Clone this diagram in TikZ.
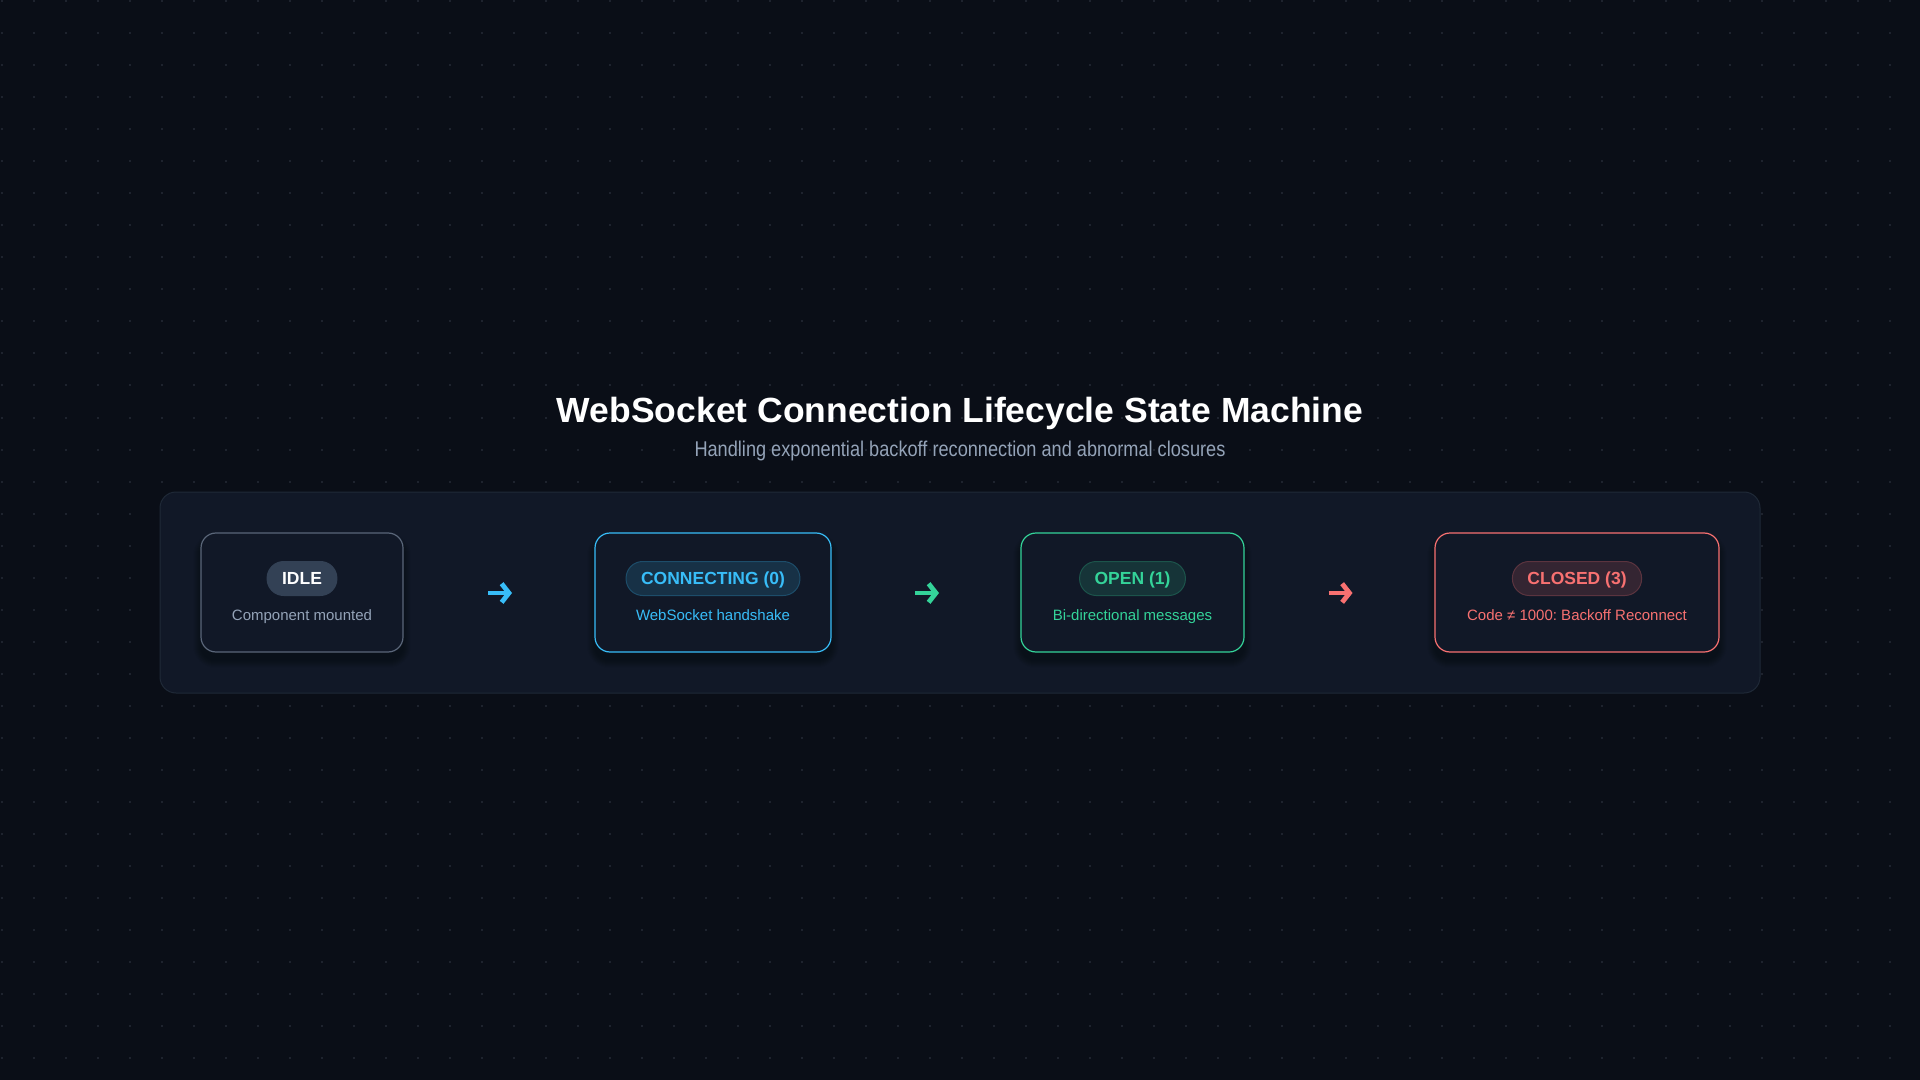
\documentclass[tikz,border=0pt]{standalone}
\usepackage{fontspec}
\usepackage{graphicx}
\setmainfont{Liberation Sans}
\usetikzlibrary{calc,arrows.meta}
\definecolor{bgc}{HTML}{0A0E17}
\definecolor{dotc}{HTML}{1E232E}
\definecolor{panelc}{HTML}{111827}
\definecolor{panelb}{HTML}{1F2937}
\definecolor{boxc}{HTML}{111827}
\definecolor{idleb}{HTML}{5A6679}
\definecolor{idlepill}{HTML}{334155}
\definecolor{subgray}{HTML}{94A3B8}
\definecolor{cblue}{HTML}{38BDF8}
\definecolor{cgreen}{HTML}{34D399}
\definecolor{cred}{HTML}{F87171}
\pgfdeclarelayer{back}
\pgfdeclarelayer{shade}
\pgfsetlayers{back,shade,main}
\tikzset{
  statebox/.style={draw=#1, line width=0.9pt, fill=boxc, rounded corners=11.25pt,
    minimum height=89.25pt, inner sep=0pt},
  pill/.style={font=\fontsize{13.125pt}{15pt}\selectfont\bfseries, text=#1,
    fill=#1!15!boxc, draw=#1!32!boxc, line width=0.75pt,
    rounded corners=12.5pt, minimum height=25.5pt, inner xsep=11.25pt,
    inner ysep=0pt, text height=9.4pt, text depth=0pt},
  subtext/.style={font=\fontsize{11.25pt}{13pt}\selectfont, text=#1, anchor=base, inner sep=0pt},
  flowarrow/.style={draw=#1, line width=3.6pt, -{Straight Barb[length=5.5pt,width=14pt]}}
}
\newcommand{\boxshadow}[1]{%
  \begin{pgfonlayer}{shade}
  \foreach \k in {0,2,...,14}{
    \fill[black,opacity=0.035,rounded corners={(15+\k/2)*0.75pt}]
      ($(#1.north west)+({-\k/2},{8-\k/2})$) rectangle ($(#1.south east)+({\k/2},{8+\k/2})$);
  }
  \end{pgfonlayer}}
\begin{document}
\frenchspacing
\begin{tikzpicture}[x=0.75pt,y=-0.75pt]
\useasboundingbox (0,0) rectangle (1920,1080);
\begin{pgfonlayer}{back}
\fill[bgc] (0,0) rectangle (1920,1080);
\foreach \i in {0,...,60}{
  \foreach \j in {0,...,33}{
    \fill[dotc] (\i*32+0.5,\j*32+0.5) rectangle ++(2,2);
  }
}
\end{pgfonlayer}

% title
\node[anchor=base, text=white, inner sep=0pt] (title) at (960,422)
  {\resizebox{604.5pt}{19pt}{\bfseries WebSocket Connection Lifecycle State Machine}};
\node[anchor=base, text=subgray, inner sep=0pt] (subtitle) at (960,456.5)
  {\resizebox{398.25pt}{11.6pt}{Handling exponential backoff reconnection and abnormal closures}};

% panel
\begin{pgfonlayer}{back}
\node[fill=panelc, draw=panelb, line width=0.75pt, rounded corners=12pt,
  minimum width=1200pt, minimum height=150.75pt, inner sep=0pt] (panel) at (960,592.5) {};
\end{pgfonlayer}

% state boxes
\node[statebox=idleb, minimum width=151.5pt] (idle) at (302,592.5) {};
\node[statebox=cblue, minimum width=177pt] (conn) at (713,592.5) {};
\node[statebox=cgreen, minimum width=167.25pt] (open) at (1132.5,592.5) {};
\node[statebox=cred, minimum width=213pt] (closed) at (1577,592.5) {};
\boxshadow{idle}
\boxshadow{conn}
\boxshadow{open}
\boxshadow{closed}

% pills
\node[pill=white, fill=idlepill, draw=idlepill] (idlep) at ($(idle.center)+(0,-14)$) {IDLE};
\node[pill=cblue] (connp) at ($(conn.center)+(0,-14)$) {CONNECTING (0)};
\node[pill=cgreen] (openp) at ($(open.center)+(0,-14)$) {OPEN (1)};
\node[pill=cred] (closedp) at ($(closed.center)+(0,-14)$) {CLOSED (3)};

% descriptions
\node[subtext=subgray] (idles) at ($(idle.center)+(0,27.5)$) {Component mounted};
\node[subtext=cblue] (conns) at ($(conn.center)+(0,27.5)$) {WebSocket handshake};
\node[subtext=cgreen] (opens) at ($(open.center)+(0,27.5)$) {Bi-directional messages};
\node[subtext=cred] (closeds) at ($(closed.center)+(0,27.5)$) {Code ≠ 1000: Backoff Reconnect};

% arrows
\coordinate (m1) at ($(idle.east)!0.5!(conn.west)$);
\coordinate (m2) at ($(conn.east)!0.5!(open.west)$);
\coordinate (m3) at ($(open.east)!0.5!(closed.west)$);
\coordinate (a1s) at ($(m1)+(-11,0.5)$);
\coordinate (a1e) at ($(m1)+(13,0.5)$);
\coordinate (a2s) at ($(m2)+(-11,0.5)$);
\coordinate (a2e) at ($(m2)+(13,0.5)$);
\coordinate (a3s) at ($(m3)+(-11,0.5)$);
\coordinate (a3e) at ($(m3)+(13,0.5)$);
\draw[flowarrow=cblue] (a1s) -- (a1e);
\draw[flowarrow=cgreen] (a2s) -- (a2e);
\draw[flowarrow=cred] (a3s) -- (a3e);
\end{tikzpicture}
\end{document}
